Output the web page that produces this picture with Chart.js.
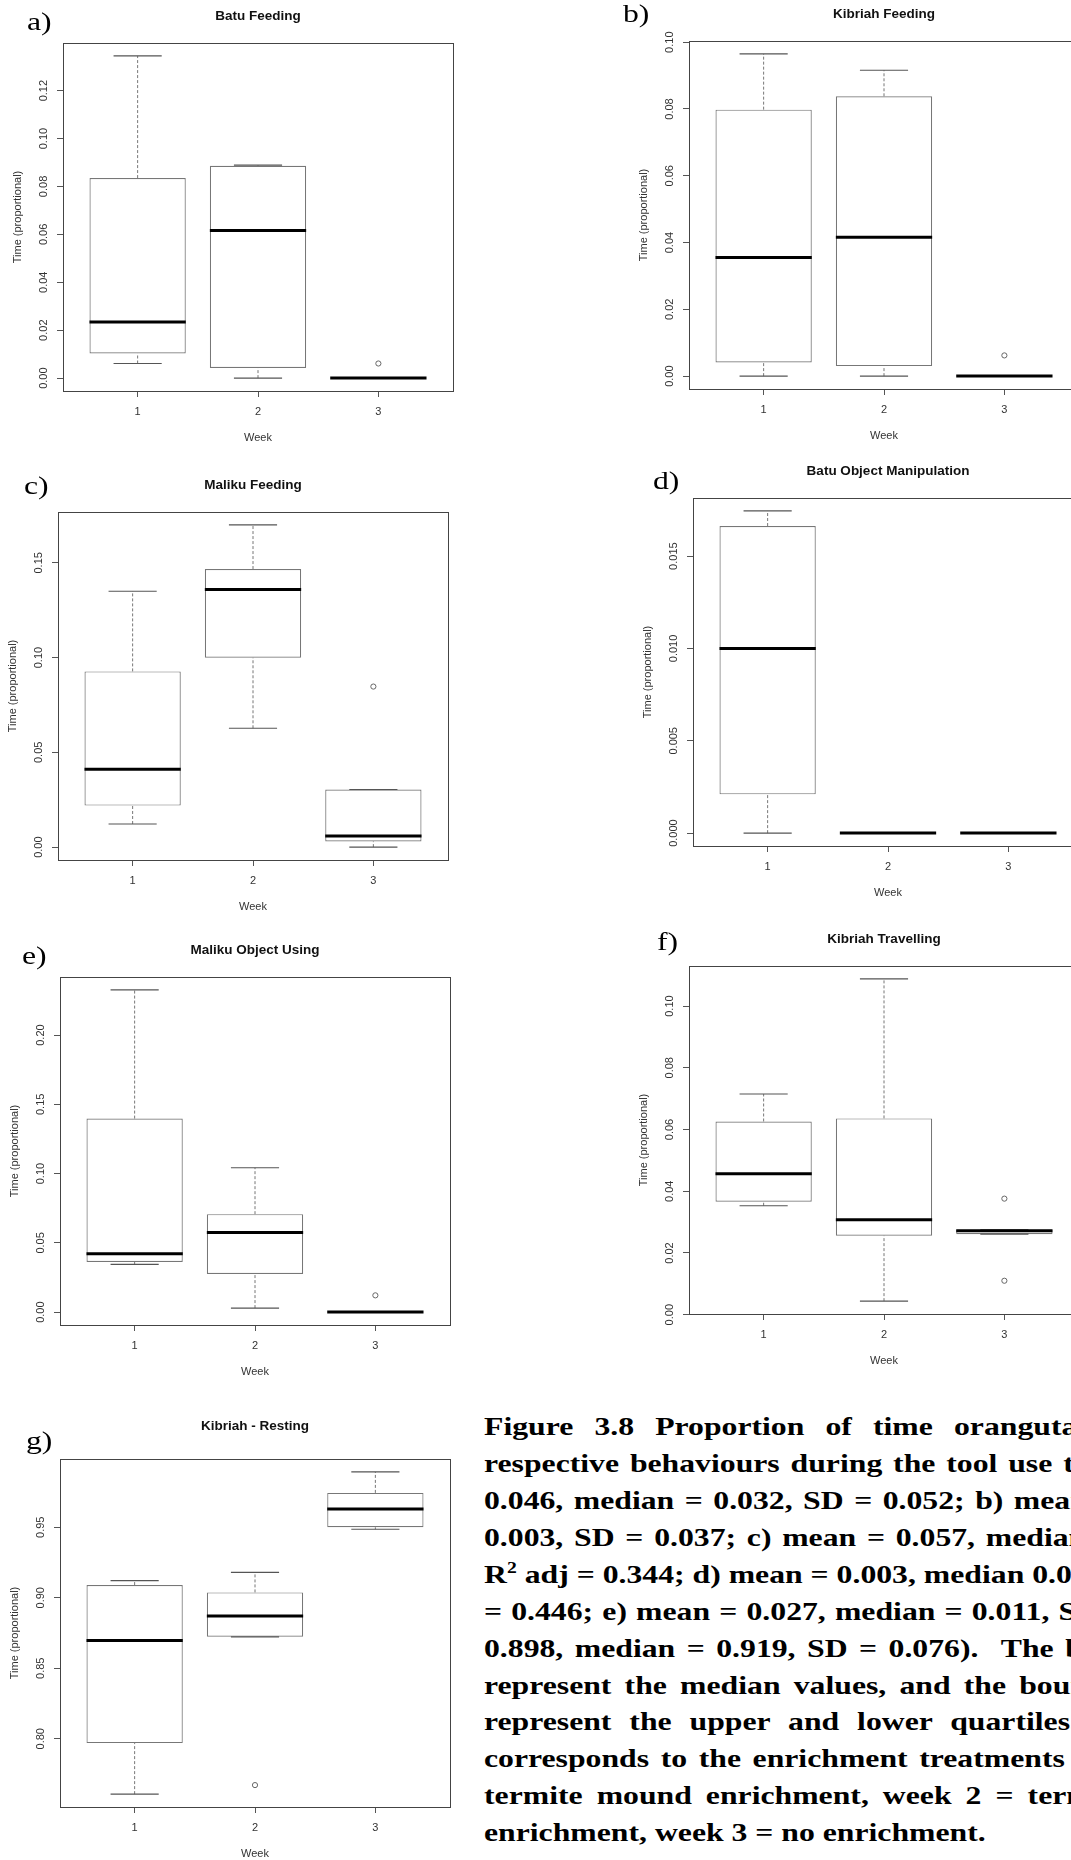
<!DOCTYPE html>
<html>
<head>
<meta charset="utf-8">
<script src="https://cdn.jsdelivr.net/npm/chart.js@4.4.1/dist/chart.umd.min.js"></script>
<style>
  html, body { margin: 0; padding: 0; background: #fff; }
  body { width: 1071px; height: 1860px; overflow: hidden; position: relative; }
  .panel { position: absolute; width: 470px; height: 451px; }
  .tag {
    position: absolute; color: #000; white-space: pre;
    font: 26px/26px "Liberation Serif", "Times New Roman", serif;
    transform: scaleX(1.22); transform-origin: 0 0;
  }
  .cap {
    position: absolute; left: 484px; color: #000; white-space: pre; z-index: 2;
    font: bold 26px/26px "Liberation Serif", "Times New Roman", serif;
    transform: scaleX(1.22); transform-origin: 0 0;
  }
  .cap sup { font-size: 0.62em; line-height: 0; vertical-align: 0.6em; }
</style>
</head>
<body>
<script>
/* ---------- Data: five-number summaries per week [low whisker, Q1, median, Q3, high whisker] ---------- */
const weeks = [1, 2, 3];

const batuFeeding = [
  [0.0061, 0.0103, 0.0234, 0.0835, 0.1345],
  [0.0000, 0.0042, 0.0616, 0.0886, 0.0889],
  [0.0000, 0.0000, 0.0000, 0.0000, 0.0000]
];
const batuFeedingOutliers = [[3, 0.0061]];
const batuFeedingTicks = ["0.00", "0.02", "0.04", "0.06", "0.08", "0.10", "0.12"];

const kibriahFeeding = [
  [0.0000, 0.0041, 0.0355, 0.0798, 0.0965],
  [0.0000, 0.0030, 0.0416, 0.0838, 0.0916],
  [0.0000, 0.0000, 0.0000, 0.0000, 0.0000]
];
const kibriahFeedingOutliers = [[3, 0.0062]];
const kibriahFeedingTicks = ["0.00", "0.02", "0.04", "0.06", "0.08", "0.10"];

const malikuFeeding = [
  [0.0122, 0.0219, 0.0411, 0.0927, 0.1350],
  [0.0627, 0.0999, 0.1359, 0.1467, 0.1700],
  [0.0000, 0.0030, 0.0058, 0.0304, 0.0304]
];
const malikuFeedingOutliers = [[3, 0.0847]];
const malikuFeedingTicks = ["0.00", "0.05", "0.10", "0.15"];

const batuObject = [
  [0.0000, 0.0021, 0.0100, 0.01663, 0.01745],
  [0.0000, 0.0000, 0.0000, 0.0000, 0.0000],
  [0.0000, 0.0000, 0.0000, 0.0000, 0.0000]
];
const batuObjectOutliers = [];
const batuObjectTicks = ["0.000", "0.005", "0.010", "0.015"];

const malikuObject = [
  [0.0345, 0.0362, 0.0422, 0.1397, 0.2326],
  [0.0029, 0.0275, 0.0574, 0.0707, 0.1042],
  [0.0000, 0.0000, 0.0000, 0.0000, 0.0000]
];
const malikuObjectOutliers = [[3, 0.0121]];
const malikuObjectTicks = ["0.00", "0.05", "0.10", "0.15", "0.20"];

const kibriahTravel = [
  [0.0353, 0.0366, 0.0457, 0.0626, 0.0715],
  [0.0044, 0.0256, 0.0308, 0.0636, 0.1088],
  [0.0261, 0.0261, 0.0272, 0.0275, 0.0275]
];
const kibriahTravelOutliers = [[3, 0.0376], [3, 0.0110]];
const kibriahTravelTicks = ["0.00", "0.02", "0.04", "0.06", "0.08", "0.10"];

const kibriahResting = [
  [0.7607, 0.7969, 0.8697, 0.9090, 0.9121],
  [0.8723, 0.8723, 0.8870, 0.9038, 0.9180],
  [0.9486, 0.9500, 0.9630, 0.9744, 0.9893]
];
const kibriahRestingOutliers = [[2, 0.7671]];
const kibriahRestingTicks = ["0.80", "0.85", "0.90", "0.95"];

/* ---------- Panel layout (page positions) ---------- */
const panels = [
  { tag: "a)", title: "Batu Feeding",             stats: batuFeeding,    out: batuFeedingOutliers,    ticks: batuFeedingTicks,    left: 0,   top: 0,    titleY: 16.5, tagX: 27,  tagY: 9 },
  { tag: "b)", title: "Kibriah Feeding",          stats: kibriahFeeding, out: kibriahFeedingOutliers, ticks: kibriahFeedingTicks, left: 626, top: -2,   titleY: 16.5, tagX: 623, tagY: 1 },
  { tag: "c)", title: "Maliku Feeding",           stats: malikuFeeding,  out: malikuFeedingOutliers,  ticks: malikuFeedingTicks,  left: -5,  top: 469,  titleY: 16.5, tagX: 24,  tagY: 473 },
  { tag: "d)", title: "Batu Object Manipulation", stats: batuObject,     out: batuObjectOutliers,     ticks: batuObjectTicks,     left: 630, top: 455,  titleY: 16.5, tagX: 653, tagY: 468 },
  { tag: "e)", title: "Maliku Object Using",      stats: malikuObject,   out: malikuObjectOutliers,   ticks: malikuObjectTicks,   left: -3,  top: 934,  titleY: 16.5, tagX: 22,  tagY: 943 },
  { tag: "f)", title: "Kibriah Travelling",       stats: kibriahTravel,  out: kibriahTravelOutliers,  ticks: kibriahTravelTicks,  left: 626, top: 923,  titleY: 16.5, tagX: 657, tagY: 929 },
  { tag: "g)", title: "Kibriah - Resting",        stats: kibriahResting, out: kibriahRestingOutliers, ticks: kibriahRestingTicks, left: -3,  top: 1416, titleY: 10,   tagX: 26,  tagY: 1428 }
];

/* ---------- Caption (one div per printed line, word spacing per justified line) ---------- */
const captionLines = [
  "Figure 3.8 Proportion of time orangutans",
  "respective behaviours during the tool use trials",
  "0.046, median = 0.032, SD = 0.052; b) mean",
  "0.003, SD = 0.037; c) mean = 0.057, median",
  "R<sup>2</sup> adj = 0.344; d) mean = 0.003, median 0.0",
  "= 0.446; e) mean = 0.027, median = 0.011, SD",
  "0.898, median = 0.919, SD = 0.076).  The bold",
  "represent the median values, and the boundaries",
  "represent the upper and lower quartiles.",
  "corresponds to the enrichment treatments",
  "termite mound enrichment, week 2 = termite",
  "enrichment, week 3 = no enrichment."
];
const captionSpacing = [10.8, 2.4, 2.1, 2.3, 0, 1.0, 2.9, 4.3, 8.2, 3.0, 5.0, 0];

/* ---------- Helpers ---------- */
Chart.defaults.font.family = '"Liberation Sans", Arial, sans-serif';
const FONT = '"Liberation Sans", Arial, sans-serif';

const measure = document.createElement("canvas").getContext("2d");
measure.font = "11px " + FONT;
const widestLabel = (labels) => Math.max(...labels.map(s => measure.measureText(s).width));

// half width in pixels of u week-units
const halfPx = (chart, u) =>
  Math.abs(chart.scales.x.getPixelForValue(1 + u) - chart.scales.x.getPixelForValue(1));

/* ---------- Plot frame (R draws a full box round the plot region) ---------- */
const plotFrame = {
  id: "plotFrame",
  afterDatasetsDraw(chart) {
    const { ctx, chartArea: a } = chart;
    ctx.save();
    ctx.strokeStyle = "#444";
    ctx.lineWidth = 1;
    ctx.strokeRect(Math.round(a.left) + 0.5, Math.round(a.top) + 0.5,
                   Math.round(a.right - a.left), Math.round(a.bottom - a.top));
    ctx.restore();
  }
};

function makePanel(p) {
  const div = document.createElement("div");
  div.className = "panel";
  div.style.left = p.left + "px";
  div.style.top = p.top + "px";
  const cv = document.createElement("canvas");
  cv.width = 470; cv.height = 451;
  div.appendChild(cv);
  document.body.appendChild(div);

  const tag = document.createElement("div");
  tag.className = "tag";
  tag.textContent = p.tag;
  tag.style.left = p.tagX + "px";
  tag.style.top = p.tagY + "px";
  document.body.appendChild(tag);

  // y range as R does it: data range widened by 4% each side
  const vals = [];
  p.stats.forEach(s => vals.push(s[0], s[4]));
  p.out.forEach(o => vals.push(o[1]));
  const lo = Math.min(...vals), hi = Math.max(...vals);
  const pad = (hi - lo) * 0.04;

  const boxes = p.stats.map((s, i) => ({ x: weeks[i], y: [s[1], s[3]] }));
  const medians = p.stats.map((s, i) => ({ x: weeks[i], y: s[2] }));
  const caps = [];
  const whiskers = [];
  p.stats.forEach((s, i) => {
    const w = weeks[i];
    caps.push({ x: w, y: s[0] }, { x: w, y: s[4] });
    whiskers.push({ x: w, y: s[3] }, { x: w, y: s[4] }, { x: w, y: null },
                  { x: w, y: s[0] }, { x: w, y: s[1] }, { x: w, y: null });
  });
  const outliers = p.out.map(o => ({ x: o[0], y: o[1] }));

  const yPad = 13 - widestLabel(p.ticks) / 2;

  new Chart(cv, {
    type: "bar",
    data: {
      datasets: [
        { type: "line", data: medians, showLine: false, pointStyle: "line",
          pointRadius: c => halfPx(c.chart, 0.4), pointBorderWidth: 3,
          pointBorderColor: "#000", order: 0 },
        { type: "line", data: caps, showLine: false, pointStyle: "line",
          pointRadius: c => halfPx(c.chart, 0.2), pointBorderWidth: 1.2,
          pointBorderColor: "#555", order: 1 },
        { type: "line", data: outliers, showLine: false, pointStyle: "circle",
          pointRadius: 2.6, pointBorderWidth: 1, pointBorderColor: "#666",
          pointBackgroundColor: "#fff", order: 1 },
        { type: "bar", data: boxes, backgroundColor: "#fff", borderColor: "#777",
          borderWidth: 1.2, borderSkipped: false, barPercentage: 0.8,
          categoryPercentage: 1, order: 2 },
        { type: "line", data: whiskers, spanGaps: false, borderColor: "#777",
          borderWidth: 1, borderDash: [3, 2], pointRadius: 0, order: 3 }
      ]
    },
    options: {
      responsive: false,
      animation: false,
      events: [],
      layout: { padding: { left: 0, right: 17, top: 0, bottom: 0 } },
      plugins: {
        legend: { display: false },
        tooltip: { enabled: false },
        title: {
          display: true, text: p.title, fullSize: false, color: "#111",
          font: { size: 13.5, weight: "bold" },
          padding: { top: p.titleY - 8.1, bottom: 43 - p.titleY - 8.1 }
        }
      },
      scales: {
        x: {
          type: "linear", min: 0.38, max: 3.62, offset: false,
          afterBuildTicks: s => { s.ticks = weeks.map(w => ({ value: w })); },
          afterFit: s => { s.height = 60; },
          grid: { offset: false, drawOnChartArea: false, drawTicks: true, tickLength: 6,
                  tickColor: "#555" },
          border: { display: false },
          ticks: { autoSkip: false, maxRotation: 0, padding: 8.4, color: "#333",
                   font: { size: 11 }, callback: v => String(v) },
          title: { display: true, text: "Week", color: "#333", font: { size: 11 },
                   padding: { top: 0, bottom: 6.4 } }
        },
        y: {
          type: "linear", min: lo - pad, max: hi + pad,
          afterBuildTicks: s => { s.ticks = p.ticks.map(t => ({ value: parseFloat(t) })); },
          afterFit: s => { s.width = 63; },
          grid: { drawOnChartArea: false, drawTicks: true, tickLength: 6, tickColor: "#555" },
          border: { display: false },
          ticks: { autoSkip: false, minRotation: 90, maxRotation: 90, crossAlign: "center",
                   padding: yPad, color: "#333", font: { size: 11 },
                   callback: (v, i) => p.ticks[i] },
          title: { display: true, text: "Time (proportional)", color: "#333",
                   font: { size: 11 }, padding: { top: 11.4, bottom: 0 } }
        }
      }
    },
    plugins: [plotFrame]
  });
}

panels.forEach(makePanel);

captionLines.forEach((html, i) => {
  const d = document.createElement("div");
  d.className = "cap";
  d.style.top = (1414.2 + 36.9 * i) + "px";
  d.style.wordSpacing = captionSpacing[i] + "px";
  d.innerHTML = html;
  document.body.appendChild(d);
});
</script>
</body>
</html>
